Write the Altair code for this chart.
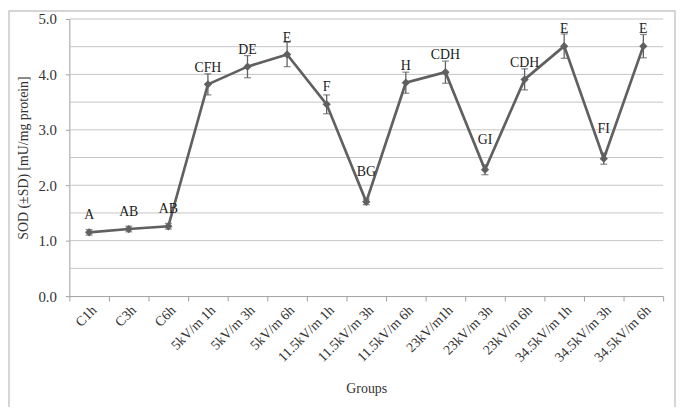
import altair as alt
import pandas as pd

groups = ["C1h", "C3h", "C6h", "5kV/m 1h", "5kV/m 3h", "5kV/m 6h",
          "11.5kV/m 1h", "11.5kV/m 3h", "11.5kV/m 6h", "23kV/m1h",
          "23kV/m 3h", "23kV/m 6h", "34.5kV/m 1h", "34.5kV/m 3h", "34.5kV/m 6h"]
sod = [1.15, 1.21, 1.26, 3.82, 4.14, 4.36, 3.46, 1.70, 3.85, 4.04,
       2.28, 3.91, 4.51, 2.48, 4.51]
sd = [0.05, 0.05, 0.05, 0.19, 0.20, 0.22, 0.17, 0.05, 0.19, 0.20,
      0.09, 0.19, 0.22, 0.10, 0.21]
letters = ["A", "AB", "AB", "CFH", "DE", "E", "F", "BG", "H", "CDH",
           "GI", "CDH", "E", "FI", "E"]
y_ticks = [0, 0.5, 1, 1.5, 2, 2.5, 3, 3.5, 4, 4.5, 5]

df = pd.DataFrame({"group": groups, "sod": sod, "sd": sd, "letter": letters})
df["lo"] = df["sod"] - df["sd"]
df["hi"] = df["sod"] + df["sd"]
# labels at deep local minima (after a drop) sit higher, clear of the lines
prev = df["sod"].shift(1)
nxt = df["sod"].shift(-1)
df["valley"] = ((df["sod"] < prev - 1) & (df["sod"] < nxt - 1)).fillna(False)
grid_df = pd.DataFrame({"sod": y_ticks[1:]})

FONT = "Liberation Serif"
LINE = "#606060"

x = alt.X("group:N", sort=groups, title="Groups",
          scale=alt.Scale(paddingInner=0, paddingOuter=0),
          axis=alt.Axis(labelAngle=-45, tickBand="extent", grid=False,
                        labelFont=FONT, labelFontSize=14, labelColor="#333333",
                        titleFont=FONT, titleFontSize=14, titleFontWeight="normal",
                        titleColor="#333333", titlePadding=17,
                        domainColor="#a0a0a0", tickColor="#a0a0a0", tickSize=5,
                        labelPadding=2))
y = alt.Y("sod:Q", title="SOD (±SD) [mU/mg protein]",
          scale=alt.Scale(domain=[0, 5]),
          axis=alt.Axis(values=y_ticks, grid=False,
                        format=".1f", labelFont=FONT, labelFontSize=15,
                        labelColor="#333333", titleFont=FONT, titleFontSize=14,
                        titleFontWeight="normal", titleColor="#333333",
                        titlePadding=8,
                        domainColor="#a0a0a0", tickColor="#a0a0a0", tickSize=4,
                        labelPadding=9))

base = alt.Chart(df)

grid = alt.Chart(grid_df).mark_rule(color="#c4c4c4", strokeWidth=1).encode(y=y)
line = base.mark_line(color=LINE, strokeWidth=2.7).encode(x=x, y=y)
pts = base.mark_point(shape="diamond", filled=True, color=LINE, size=70,
                      opacity=1).encode(x=x, y=y)
err = base.mark_rule(color=LINE, strokeWidth=1.3).encode(x=x, y=alt.Y("lo:Q"), y2="hi:Q")
cap_hi = base.mark_tick(color=LINE, thickness=1.3, size=7).encode(x=x, y=alt.Y("hi:Q"))
cap_lo = base.mark_tick(color=LINE, thickness=1.3, size=7).encode(x=x, y=alt.Y("lo:Q"))
txt = base.transform_filter("!datum.valley").mark_text(
    font=FONT, fontSize=14, color="#222222", dy=-13,
    baseline="alphabetic").encode(x=x, y=y, text="letter:N")
txt_v = base.transform_filter("datum.valley").mark_text(
    font=FONT, fontSize=14, color="#222222", dy=-26,
    baseline="alphabetic").encode(x=x, y=y, text="letter:N")

frame = alt.Chart(pd.DataFrame({"a": [0]})).mark_rect(
    fillOpacity=0, stroke="#c8c8c8", strokeWidth=1.5).encode(
    x=alt.value(-61), x2=alt.value(612), y=alt.value(-8), y2=alt.value(395))

chart = alt.layer(grid, line, err, cap_hi, cap_lo, pts, txt, txt_v, frame).properties(
    width=600, height=280,
    autosize=alt.AutoSizeParams(type="none"),
    padding={"left": 62, "top": 9, "right": 14, "bottom": 110},
    background="white",
).configure_view(stroke=None)

chart.save("out.html", embed_options={"renderer": "svg", "actions": False})
